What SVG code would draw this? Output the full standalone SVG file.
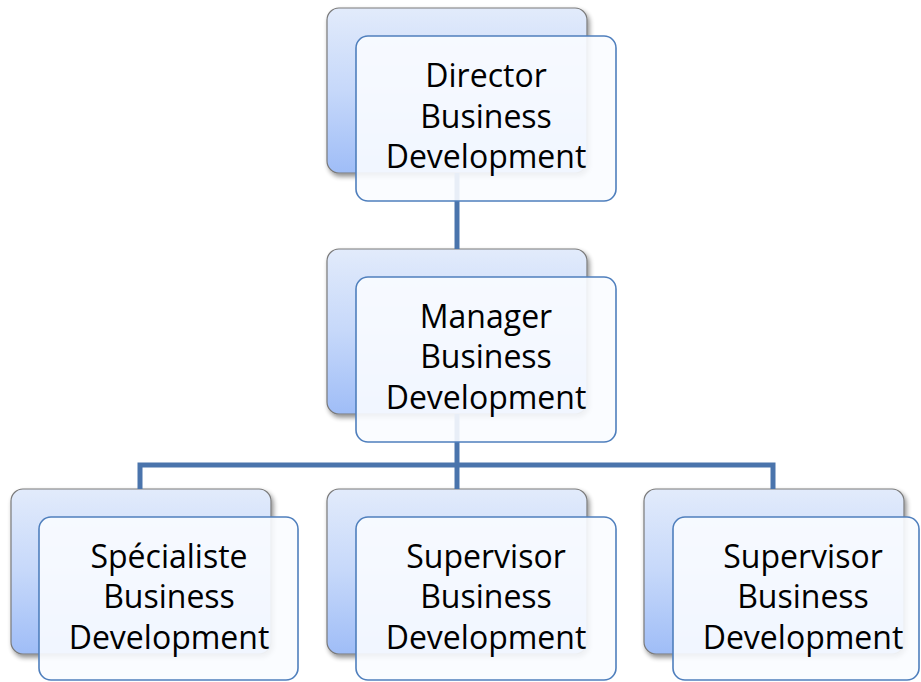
<svg xmlns="http://www.w3.org/2000/svg" width="921" height="682" viewBox="0 0 921 682">
  <defs>
    <linearGradient id="backFill" x1="0" y1="0" x2="0" y2="1">
      <stop offset="0" stop-color="#e2ebfb"/>
      <stop offset="0.5" stop-color="#c6d8fa"/>
      <stop offset="1" stop-color="#9fbdf7"/>
    </linearGradient>
    <filter id="shadow" x="-10%" y="-10%" width="125%" height="125%">
      <feGaussianBlur in="SourceAlpha" stdDeviation="2.5"/>
      <feOffset dx="2" dy="3" result="b"/>
      <feComponentTransfer><feFuncA type="linear" slope="0.45"/></feComponentTransfer>
      <feMerge><feMergeNode/><feMergeNode in="SourceGraphic"/></feMerge>
    </filter>
  </defs>
  <style>
    .back { fill: url(#backFill); stroke: #7a7a7a; stroke-width: 1.2; }
    .front { fill: #fafcff; fill-opacity: 0.9; stroke: #4f7fbd; stroke-width: 1.6; }
    .conn { fill: none; stroke: #4a74ac; stroke-width: 5; stroke-linejoin: miter; }
    text { font-family: "Open Sans", Lato, "Liberation Sans", sans-serif; font-size: 32px; fill: #000; text-anchor: middle; }
  </style>
  <rect width="921" height="682" fill="#ffffff"/>

  <!-- back cards -->
  <g id="backs" filter="url(#shadow)">
    <rect class="back" x="327" y="8" width="260" height="165" rx="12"/>
    <rect class="back" x="327" y="249" width="260" height="165" rx="12"/>
    <rect class="back" x="11" y="489" width="260" height="165" rx="12"/>
    <rect class="back" x="327" y="489" width="260" height="165" rx="12"/>
    <rect class="back" x="644" y="489" width="260" height="165" rx="12"/>
  </g>

  <!-- reporting lines -->
  <g id="connectors">
    <path class="conn" d="M457 173 V249"/>
    <path class="conn" d="M457 414 V489"/>
    <path class="conn" d="M140 489 V465 H773 V489"/>
  </g>

  <g id="director">
    <rect class="front" x="356" y="36" width="260" height="165" rx="12"/>
    <text x="486" y="87">Director</text>
    <text x="486" y="128">Business</text>
    <text x="486" y="168">Development</text>
  </g>

  <g id="manager">
    <rect class="front" x="356" y="277" width="260" height="165" rx="12"/>
    <text x="486" y="328">Manager</text>
    <text x="486" y="368">Business</text>
    <text x="486" y="409">Development</text>
  </g>

  <g id="specialiste">
    <rect class="front" x="39" y="517" width="259" height="163" rx="12"/>
    <text x="169" y="568">Spécialiste</text>
    <text x="169" y="608">Business</text>
    <text x="169" y="649">Development</text>
  </g>

  <g id="supervisor-1">
    <rect class="front" x="356" y="517" width="260" height="163" rx="12"/>
    <text x="486" y="568">Supervisor</text>
    <text x="486" y="608">Business</text>
    <text x="486" y="649">Development</text>
  </g>

  <g id="supervisor-2">
    <rect class="front" x="673" y="517" width="246" height="163" rx="12"/>
    <text x="803" y="568">Supervisor</text>
    <text x="803" y="608">Business</text>
    <text x="803" y="649">Development</text>
  </g>
</svg>
